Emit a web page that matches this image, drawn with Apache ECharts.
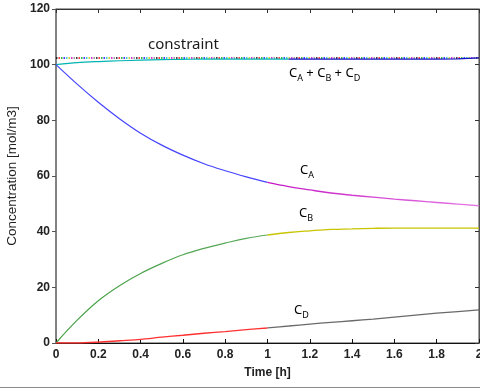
<!DOCTYPE html>
<html><head><meta charset="utf-8">
<script src="https://cdn.jsdelivr.net/npm/echarts@6/dist/echarts.min.js"></script>
<style>html,body{margin:0;padding:0;background:#fff}#c{width:480px;height:389px}</style>
</head><body><div id="c"></div>
<script>
var time = [0,0.1,0.2,0.3,0.4,0.5,0.6,0.7,0.8,0.9,1.0,1.1,1.2,1.3,1.4,1.5,1.6,1.7,1.8,1.9,2.0];
var cA   = [100,93.0,86.5,80.6,75.4,71.1,67.5,64.4,61.9,59.7,57.7,56.2,55.0,53.9,53.1,52.4,51.7,51.1,50.5,49.9,49.3];
var cB   = [0,8.2,15.2,20.6,25.0,28.6,31.7,34.0,35.9,37.6,38.8,39.7,40.3,40.8,41.0,41.2,41.3,41.3,41.3,41.3,41.3];
var cD   = [0,0,0.3,0.8,1.3,2.1,2.8,3.5,4.1,4.8,5.4,6.1,6.8,7.4,8.0,8.6,9.3,10.0,10.7,11.3,11.9];
var cSum = [100,100.7,101.1,101.4,101.6,101.8,101.9,102.0,102.0,102.0,102.0,102.0,102.0,102.0,102.0,102.0,102.0,102.0,102.0,102.05,102.45];
var constraintLevel = 102.4;
var xTicks = [0,0.2,0.4,0.6,0.8,1,1.2,1.4,1.6,1.8,2];
var yTicks = [0,20,40,60,80,100,120];

function pairs(vals, from, to) {
  var out = [];
  for (var i = from; i <= to; i++) out.push([time[i], vals[i]]);
  return out;
}
var last = time.length - 1;
var split = 10;   // t = 1.0
var splitSum = 11; // t = 1.1

function line(name, data, color, width, extra, smooth) {
  var s = {name: name, type: 'line', data: data, showSymbol: false, symbol: 'none',
    smooth: smooth || false, animation: false, silent: true, lineStyle: {color: color, width: width || 1.2}};
  if (extra) for (var k in extra) s.lineStyle[k] = extra[k];
  return s;
}
function grad(c1, c2) {
  return new echarts.graphic.LinearGradient(0, 0, 1, 0, [{offset: 0, color: c1}, {offset: 1, color: c2}]);
}

var dotColors = ['#000000', '#ff0000', '#00a000', '#0000ff', '#00c0c0', '#c0c000', '#c000c0', '#808080'];
var series = [];
dotColors.forEach(function (col, i) {
  series.push(line('constraint' + i, [[time[0], constraintLevel], [time[last], constraintLevel]], col, 1.4,
    {type: [1.5, 18.5], dashOffset: -i * 2.5}));
});
series.push(line('sum1', pairs(cSum, 0, splitSum), '#00b4b4', 1.2, null, 0.3));
series.push(line('sum2', pairs(cSum, splitSum, last), '#1414c8', 1.2));
series.push(line('A1', pairs(cA, 0, split), '#4545ff', 1.2, null, 0.4));
series.push(line('A2', pairs(cA, split, last), grad('#c414c4', '#e47ae4'), 1.4, null, 0.4));
series.push(line('B1', pairs(cB, 0, split), grad('#45a045', '#5aaa5a'), 1.2, null, 0.4));
series.push(line('B2', pairs(cB, split, last), '#c8c400', 1.3, null, 0.4));
series.push(line('D1', pairs(cD, 0, split), '#ff3030', 1.4, null, 0.3));
series.push(line('D2', pairs(cD, split, last), '#6a6a6a', 1.3, null, 0.3));
// anchor for the secondary (top / right) axes
series.push({type: 'line', xAxisIndex: 1, yAxisIndex: 1, data: [[0, 0], [2, 120]], symbol: 'none',
  silent: true, lineStyle: {opacity: 0}, animation: false});

var labelFont = '"Noto Sans", "Open Sans", sans-serif';
var axisFont = '"Liberation Sans", Arial, sans-serif';
var rich = {s: {fontSize: 9, fontFamily: labelFont, color: '#1a1a1a', padding: [10, 0, 0, 0]},
            c: {fontSize: 13, fontFamily: labelFont, color: '#1a1a1a'}};

var chart = echarts.init(document.getElementById('c'));
chart.setOption({
  backgroundColor: '#fff',
  animation: false,
  grid: {left: 56, top: 9, right: 1, bottom: 46, containLabel: false, outerBoundsMode: 'none',
    show: true, borderColor: '#444', borderWidth: 1},
  xAxis: [{
    type: 'value', min: 0, max: 2, interval: 0.2, position: 'bottom',
    axisLine: {show: true, onZero: false, lineStyle: {color: '#111', width: 1}},
    axisTick: {show: true, inside: true, length: 4, lineStyle: {color: '#111'}},
    axisLabel: {show: true, color: '#222', fontSize: 12, fontWeight: 'bold', fontFamily: axisFont, margin: 6,
      hideOverlap: false,
      formatter: function (v) { var r = Math.round(v * 10) / 10; return xTicks.indexOf(r) >= 0 ? String(r) : ''; }},
    splitLine: {show: false},
    name: 'Time [h]', nameLocation: 'middle', nameGap: 24,
    nameTextStyle: {color: '#222', fontSize: 12, fontWeight: 'bold', fontFamily: axisFont}
  }, {
    type: 'value', min: 0, max: 2, interval: 0.2, position: 'top',
    axisLine: {show: true, onZero: false, lineStyle: {color: '#333'}},
    axisTick: {show: true, inside: true, length: 4, lineStyle: {color: '#333'}},
    axisLabel: {show: false}, splitLine: {show: false}
  }],
  yAxis: [{
    type: 'value', min: 0, max: 120, interval: 20, position: 'left',
    axisLine: {show: true, onZero: false, lineStyle: {color: '#777', width: 1.5}},
    axisTick: {show: true, inside: false, length: 4, lineStyle: {color: '#555'}},
    axisLabel: {show: true, color: '#222', fontSize: 12, fontWeight: 'bold', fontFamily: axisFont, margin: 6,
      formatter: function (v) { return yTicks.indexOf(v) >= 0 ? String(v) : ''; }},
    splitLine: {show: false},
    name: 'Concentration [mol/m3]', nameLocation: 'middle', nameGap: 29, nameRotate: 90,
    nameTextStyle: {color: '#222', fontSize: 13.5, fontFamily: axisFont}
  }, {
    type: 'value', min: 0, max: 120, interval: 20, position: 'right',
    axisLine: {show: true, onZero: false, lineStyle: {color: '#555'}},
    axisTick: {show: true, inside: true, length: 4, lineStyle: {color: '#333'}},
    axisLabel: {show: false}, splitLine: {show: false}
  }],
  series: series,
  graphic: [
    {type: 'text', left: 148, top: 37, silent: true,
      style: {text: 'constraint', fontSize: 15, fontFamily: labelFont, fill: '#1a1a1a'}},
    {type: 'text', left: 289, top: 67, silent: true,
      style: {text: '{c|C}{s|A}{c| + C}{s|B}{c| + C}{s|D}', rich: rich}},
    {type: 'text', left: 300, top: 164, silent: true,
      style: {text: '{c|C}{s|A}', rich: rich}},
    {type: 'text', left: 299, top: 207, silent: true,
      style: {text: '{c|C}{s|B}', rich: rich}},
    {type: 'text', left: 294, top: 304, silent: true,
      style: {text: '{c|C}{s|D}', rich: rich}},
    {type: 'line', silent: true, shape: {x1: 0, y1: 387.5, x2: 480, y2: 387.5},
      style: {stroke: '#8a8a8a', lineWidth: 1}}
  ]
});
</script></body></html>
